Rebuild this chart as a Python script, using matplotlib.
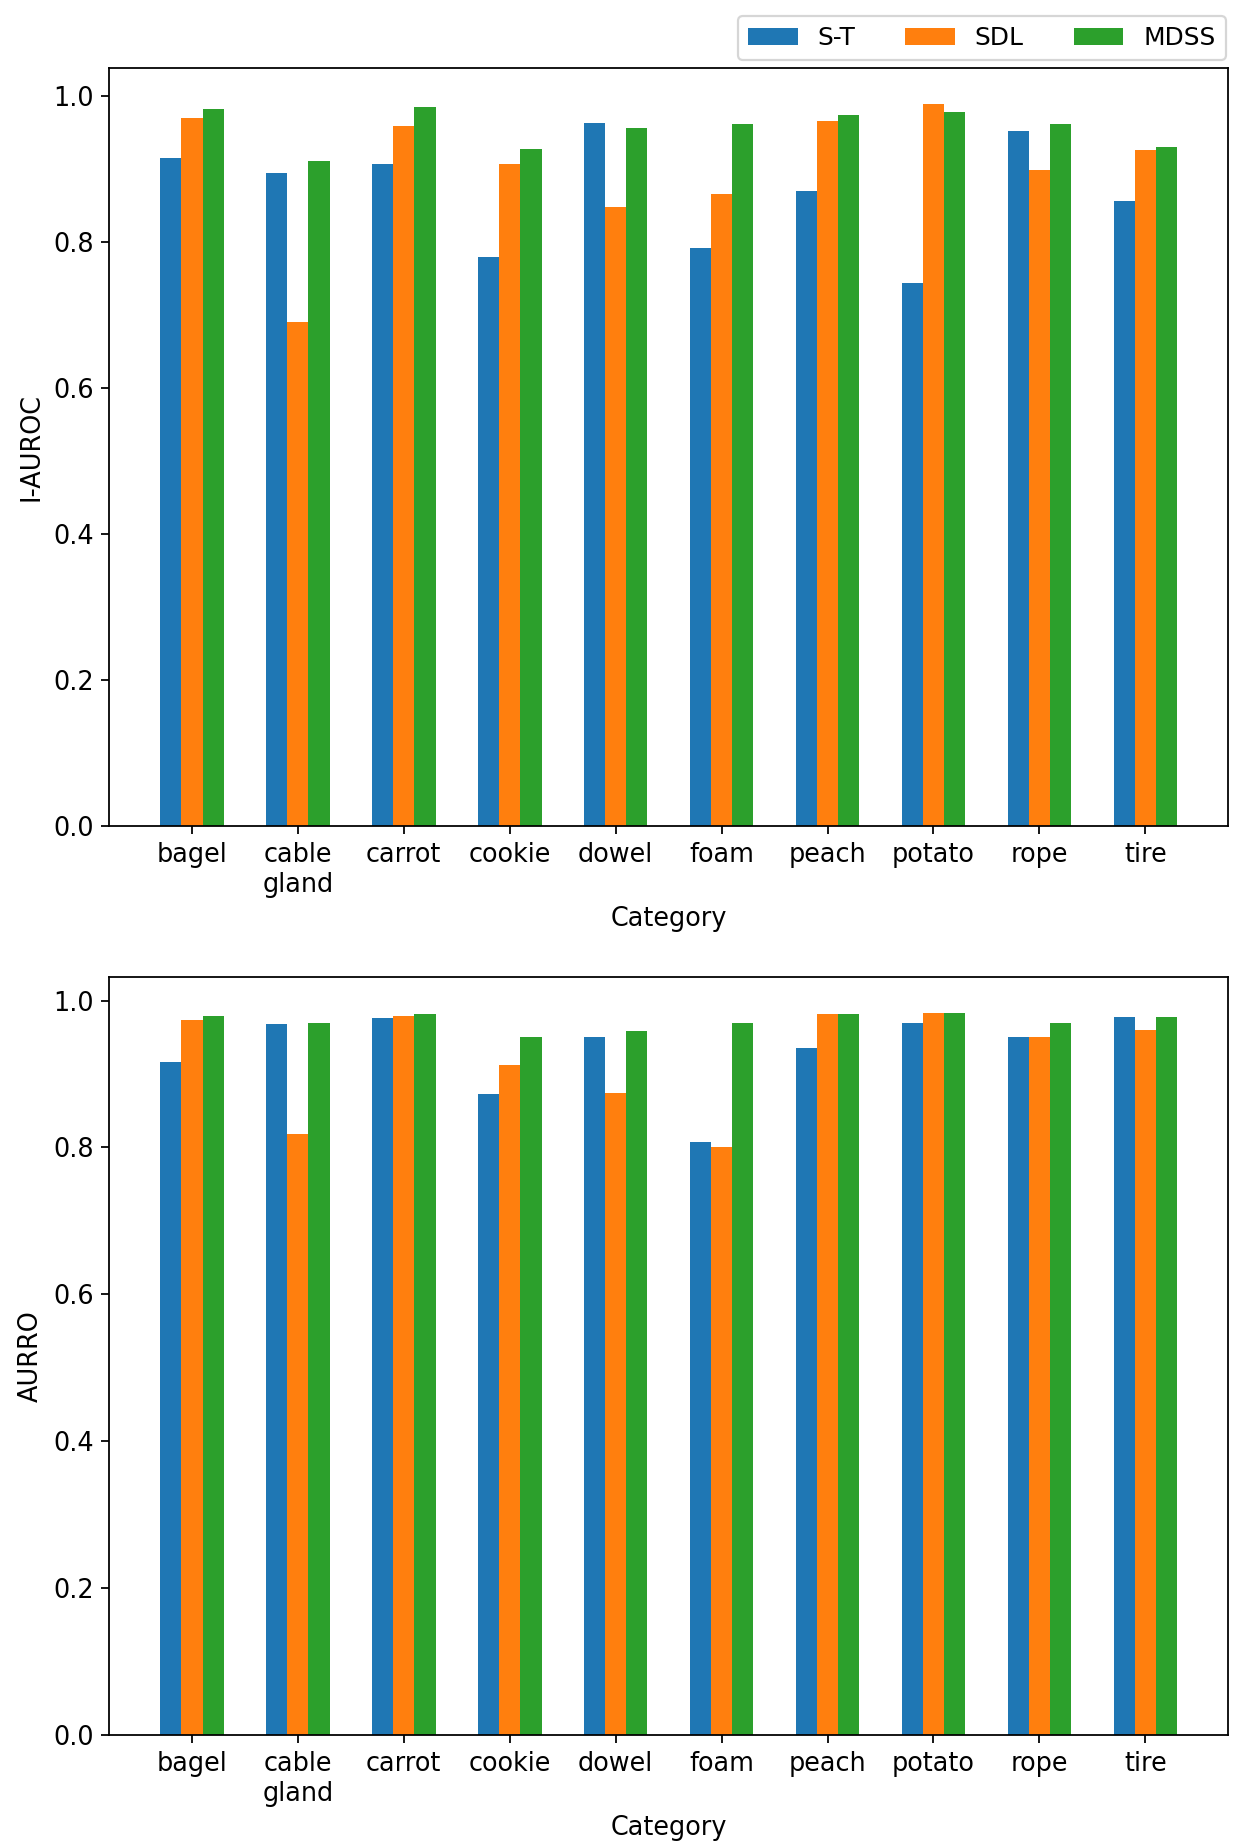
import numpy as np
import matplotlib
matplotlib.use('Agg')
import matplotlib.pyplot as plt

# categories and scores
categories = ['bagel', 'cable\ngland', 'carrot', 'cookie', 'dowel',
              'foam', 'peach', 'potato', 'rope', 'tire']
methods = ['S-T', 'SDL', 'MDSS']

# I-AUROC
st_iauroc = [0.915, 0.894, 0.906, 0.779, 0.962, 0.792, 0.869, 0.743, 0.952, 0.856]
sdl_iauroc = [0.969, 0.690, 0.959, 0.906, 0.848, 0.865, 0.965, 0.988, 0.898, 0.925]
mdss_iauroc = [0.982, 0.910, 0.984, 0.927, 0.955, 0.961, 0.973, 0.978, 0.961, 0.929]

# AURRO
st_aurro = [0.917, 0.968, 0.976, 0.873, 0.951, 0.808, 0.935, 0.969, 0.950, 0.978]
sdl_aurro = [0.974, 0.818, 0.979, 0.912, 0.874, 0.801, 0.982, 0.983, 0.950, 0.960]
mdss_aurro = [0.979, 0.969, 0.982, 0.950, 0.958, 0.969, 0.982, 0.983, 0.970, 0.978]

W, H, dpi = 1245, 1846, 160
fig = plt.figure(figsize=(W / dpi, H / dpi), dpi=dpi)

ax1 = fig.add_axes([109.3 / W, 1 - 826 / H, (1228 - 109.3) / W, (826 - 68.3) / H])
ax2 = fig.add_axes([109.3 / W, 1 - 1735 / H, (1228 - 109.3) / W, (1735 - 977) / H])

x = np.arange(len(categories))
width = 0.2

for ax, series, ylab in [(ax1, [st_iauroc, sdl_iauroc, mdss_iauroc], 'I-AUROC'),
                         (ax2, [st_aurro, sdl_aurro, mdss_aurro], 'AURRO')]:
    for i, (vals, name) in enumerate(zip(series, methods)):
        ax.bar(x + (i - 1) * width, vals, width, label=name)
    ax.set_xticks(x)
    ax.set_xticklabels(categories, fontsize=11.5)
    ax.tick_params(axis='y', labelsize=11.5)
    ax.set_xlabel('Category', fontsize=11.5)
    ax.set_ylabel(ylab, fontsize=11.5)

ax1.legend(loc='lower right', ncol=3, fontsize=11.2, borderaxespad=0,
           bbox_to_anchor=(1225.5 / W, 1 - 60 / H), bbox_transform=fig.transFigure)

plt.savefig('out.png', dpi=dpi)
